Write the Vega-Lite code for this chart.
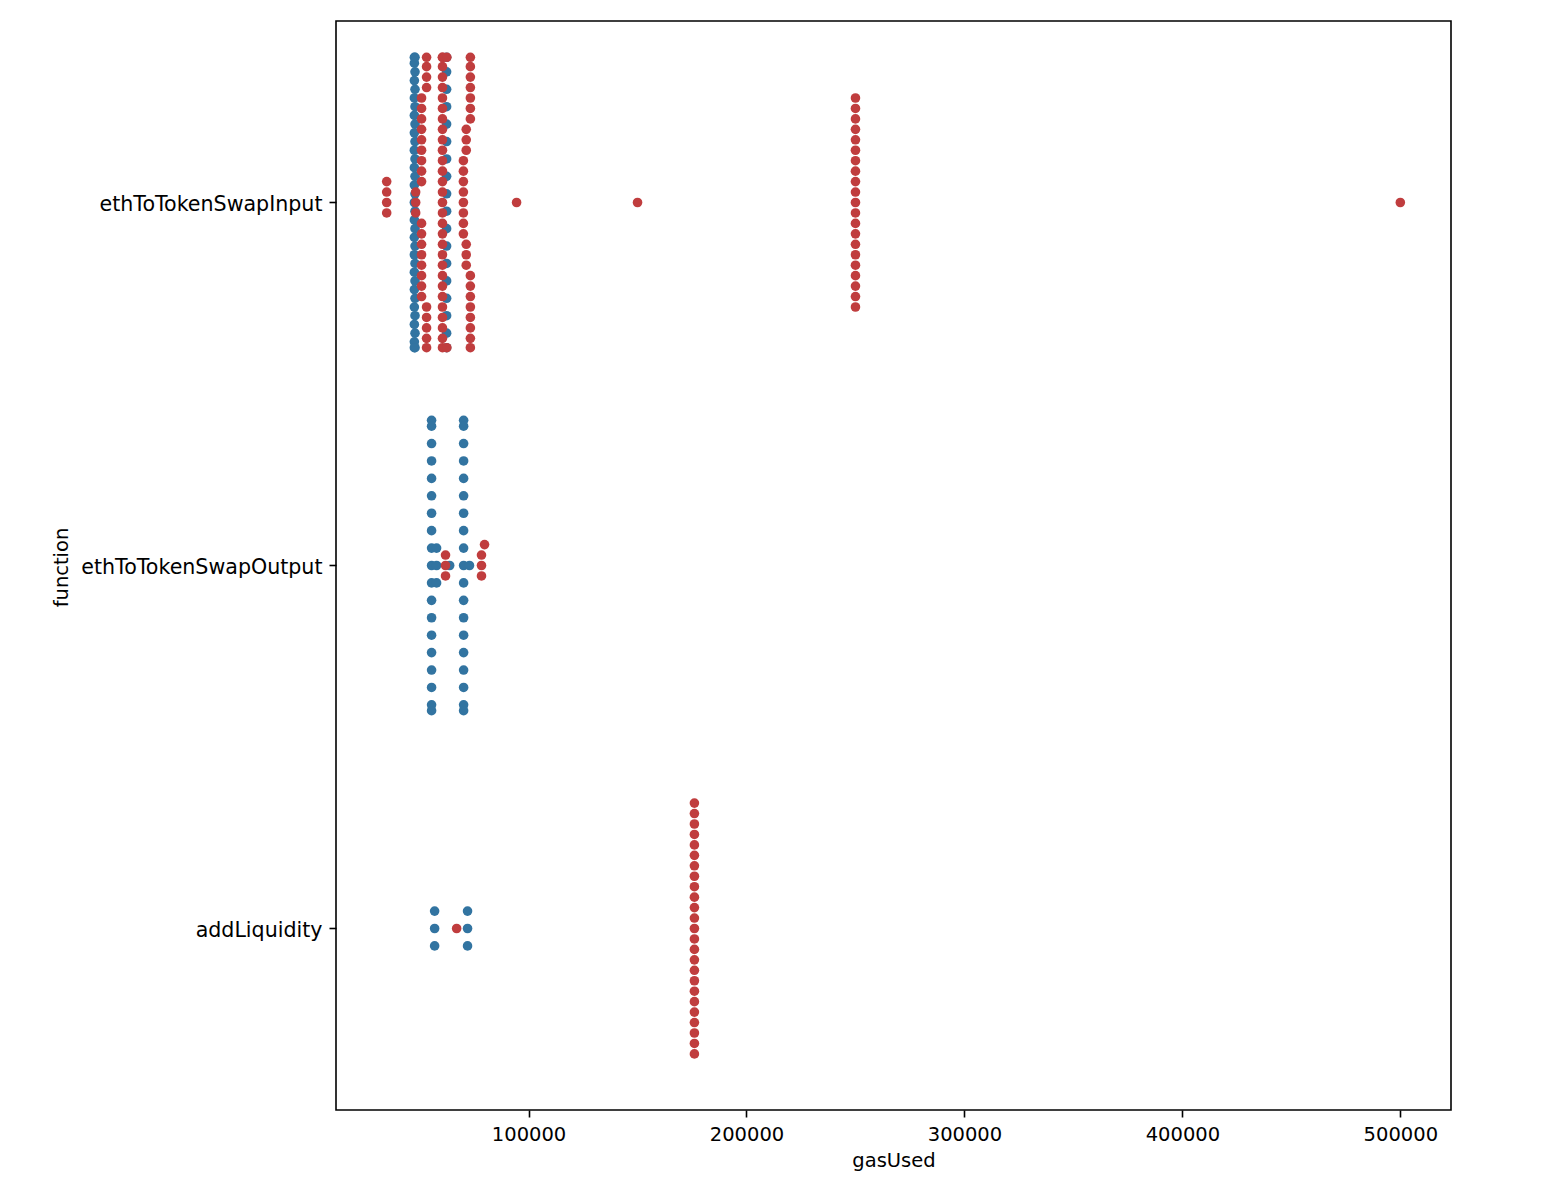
{
  "$schema": "https://vega.github.io/schema/vega-lite/v6.json",
  "width": 1115,
  "height": 1089,
  "autosize": {"type": "none"},
  "padding": {"left": 336, "top": 21, "right": 93, "bottom": 80},
  "background": "white",
  "config": {
    "view": {"stroke": "black", "strokeWidth": 1.6},
    "font": "DejaVu Sans",
    "axis": {
      "labelFont": "DejaVu Sans",
      "titleFont": "DejaVu Sans",
      "labelFontSize": 19.5,
      "titleFontSize": 19.5,
      "titleFontWeight": "normal",
      "labelColor": "black",
      "titleColor": "black",
      "tickColor": "black",
      "tickWidth": 1.6,
      "tickSize": 7,
      "labelLimit": 0,
      "domain": false,
      "grid": false
    }
  },
  "datasets": {
    "txs": [
      {"function": "ethToTokenSwapInput", "gasUsed": 47600, "status": "success"},
      {"function": "ethToTokenSwapInput", "gasUsed": 47600, "status": "success"},
      {"function": "ethToTokenSwapInput", "gasUsed": 47600, "status": "success"},
      {"function": "ethToTokenSwapInput", "gasUsed": 47600, "status": "success"},
      {"function": "ethToTokenSwapInput", "gasUsed": 47600, "status": "success"},
      {"function": "ethToTokenSwapInput", "gasUsed": 47600, "status": "success"},
      {"function": "ethToTokenSwapInput", "gasUsed": 47600, "status": "success"},
      {"function": "ethToTokenSwapInput", "gasUsed": 47600, "status": "success"},
      {"function": "ethToTokenSwapInput", "gasUsed": 47600, "status": "success"},
      {"function": "ethToTokenSwapInput", "gasUsed": 47600, "status": "success"},
      {"function": "ethToTokenSwapInput", "gasUsed": 47600, "status": "success"},
      {"function": "ethToTokenSwapInput", "gasUsed": 47600, "status": "success"},
      {"function": "ethToTokenSwapInput", "gasUsed": 47600, "status": "success"},
      {"function": "ethToTokenSwapInput", "gasUsed": 47600, "status": "success"},
      {"function": "ethToTokenSwapInput", "gasUsed": 47600, "status": "success"},
      {"function": "ethToTokenSwapInput", "gasUsed": 47600, "status": "success"},
      {"function": "ethToTokenSwapInput", "gasUsed": 47600, "status": "success"},
      {"function": "ethToTokenSwapInput", "gasUsed": 47600, "status": "success"},
      {"function": "ethToTokenSwapInput", "gasUsed": 47600, "status": "success"},
      {"function": "ethToTokenSwapInput", "gasUsed": 47900, "status": "success"},
      {"function": "ethToTokenSwapInput", "gasUsed": 47900, "status": "success"},
      {"function": "ethToTokenSwapInput", "gasUsed": 47900, "status": "success"},
      {"function": "ethToTokenSwapInput", "gasUsed": 47900, "status": "success"},
      {"function": "ethToTokenSwapInput", "gasUsed": 47900, "status": "success"},
      {"function": "ethToTokenSwapInput", "gasUsed": 47900, "status": "success"},
      {"function": "ethToTokenSwapInput", "gasUsed": 47900, "status": "success"},
      {"function": "ethToTokenSwapInput", "gasUsed": 47900, "status": "success"},
      {"function": "ethToTokenSwapInput", "gasUsed": 47900, "status": "success"},
      {"function": "ethToTokenSwapInput", "gasUsed": 47900, "status": "success"},
      {"function": "ethToTokenSwapInput", "gasUsed": 47900, "status": "success"},
      {"function": "ethToTokenSwapInput", "gasUsed": 47900, "status": "success"},
      {"function": "ethToTokenSwapInput", "gasUsed": 47900, "status": "success"},
      {"function": "ethToTokenSwapInput", "gasUsed": 47900, "status": "success"},
      {"function": "ethToTokenSwapInput", "gasUsed": 47900, "status": "success"},
      {"function": "ethToTokenSwapInput", "gasUsed": 47900, "status": "success"},
      {"function": "ethToTokenSwapInput", "gasUsed": 47900, "status": "success"},
      {"function": "ethToTokenSwapInput", "gasUsed": 47900, "status": "success"},
      {"function": "ethToTokenSwapInput", "gasUsed": 62400, "status": "success"},
      {"function": "ethToTokenSwapInput", "gasUsed": 62400, "status": "success"},
      {"function": "ethToTokenSwapInput", "gasUsed": 62400, "status": "success"},
      {"function": "ethToTokenSwapInput", "gasUsed": 62400, "status": "success"},
      {"function": "ethToTokenSwapInput", "gasUsed": 62400, "status": "success"},
      {"function": "ethToTokenSwapInput", "gasUsed": 62400, "status": "success"},
      {"function": "ethToTokenSwapInput", "gasUsed": 62400, "status": "success"},
      {"function": "ethToTokenSwapInput", "gasUsed": 62400, "status": "success"},
      {"function": "ethToTokenSwapInput", "gasUsed": 62400, "status": "success"},
      {"function": "ethToTokenSwapInput", "gasUsed": 62400, "status": "success"},
      {"function": "ethToTokenSwapInput", "gasUsed": 62400, "status": "success"},
      {"function": "ethToTokenSwapInput", "gasUsed": 62400, "status": "success"},
      {"function": "ethToTokenSwapInput", "gasUsed": 62400, "status": "success"},
      {"function": "ethToTokenSwapInput", "gasUsed": 62400, "status": "success"},
      {"function": "ethToTokenSwapInput", "gasUsed": 62400, "status": "success"},
      {"function": "ethToTokenSwapInput", "gasUsed": 62400, "status": "success"},
      {"function": "ethToTokenSwapInput", "gasUsed": 62400, "status": "success"},
      {"function": "ethToTokenSwapInput", "gasUsed": 62400, "status": "success"},

      {"function": "ethToTokenSwapInput", "gasUsed": 34900, "status": "failed"},
      {"function": "ethToTokenSwapInput", "gasUsed": 34900, "status": "failed"},
      {"function": "ethToTokenSwapInput", "gasUsed": 34900, "status": "failed"},
      {"function": "ethToTokenSwapInput", "gasUsed": 34900, "status": "failed"},
      {"function": "ethToTokenSwapInput", "gasUsed": 48200, "status": "failed"},
      {"function": "ethToTokenSwapInput", "gasUsed": 48200, "status": "failed"},
      {"function": "ethToTokenSwapInput", "gasUsed": 48200, "status": "failed"},
      {"function": "ethToTokenSwapInput", "gasUsed": 50900, "status": "failed"},
      {"function": "ethToTokenSwapInput", "gasUsed": 50900, "status": "failed"},
      {"function": "ethToTokenSwapInput", "gasUsed": 50900, "status": "failed"},
      {"function": "ethToTokenSwapInput", "gasUsed": 50900, "status": "failed"},
      {"function": "ethToTokenSwapInput", "gasUsed": 50900, "status": "failed"},
      {"function": "ethToTokenSwapInput", "gasUsed": 50900, "status": "failed"},
      {"function": "ethToTokenSwapInput", "gasUsed": 50900, "status": "failed"},
      {"function": "ethToTokenSwapInput", "gasUsed": 50900, "status": "failed"},
      {"function": "ethToTokenSwapInput", "gasUsed": 50900, "status": "failed"},
      {"function": "ethToTokenSwapInput", "gasUsed": 50900, "status": "failed"},
      {"function": "ethToTokenSwapInput", "gasUsed": 50900, "status": "failed"},
      {"function": "ethToTokenSwapInput", "gasUsed": 50900, "status": "failed"},
      {"function": "ethToTokenSwapInput", "gasUsed": 50900, "status": "failed"},
      {"function": "ethToTokenSwapInput", "gasUsed": 50900, "status": "failed"},
      {"function": "ethToTokenSwapInput", "gasUsed": 50900, "status": "failed"},
      {"function": "ethToTokenSwapInput", "gasUsed": 50900, "status": "failed"},
      {"function": "ethToTokenSwapInput", "gasUsed": 50900, "status": "failed"},
      {"function": "ethToTokenSwapInput", "gasUsed": 53200, "status": "failed"},
      {"function": "ethToTokenSwapInput", "gasUsed": 53200, "status": "failed"},
      {"function": "ethToTokenSwapInput", "gasUsed": 53200, "status": "failed"},
      {"function": "ethToTokenSwapInput", "gasUsed": 53200, "status": "failed"},
      {"function": "ethToTokenSwapInput", "gasUsed": 53200, "status": "failed"},
      {"function": "ethToTokenSwapInput", "gasUsed": 53200, "status": "failed"},
      {"function": "ethToTokenSwapInput", "gasUsed": 53200, "status": "failed"},
      {"function": "ethToTokenSwapInput", "gasUsed": 53200, "status": "failed"},
      {"function": "ethToTokenSwapInput", "gasUsed": 53200, "status": "failed"},
      {"function": "ethToTokenSwapInput", "gasUsed": 60500, "status": "failed"},
      {"function": "ethToTokenSwapInput", "gasUsed": 60500, "status": "failed"},
      {"function": "ethToTokenSwapInput", "gasUsed": 60500, "status": "failed"},
      {"function": "ethToTokenSwapInput", "gasUsed": 60500, "status": "failed"},
      {"function": "ethToTokenSwapInput", "gasUsed": 60500, "status": "failed"},
      {"function": "ethToTokenSwapInput", "gasUsed": 60500, "status": "failed"},
      {"function": "ethToTokenSwapInput", "gasUsed": 60500, "status": "failed"},
      {"function": "ethToTokenSwapInput", "gasUsed": 60500, "status": "failed"},
      {"function": "ethToTokenSwapInput", "gasUsed": 60500, "status": "failed"},
      {"function": "ethToTokenSwapInput", "gasUsed": 60500, "status": "failed"},
      {"function": "ethToTokenSwapInput", "gasUsed": 60500, "status": "failed"},
      {"function": "ethToTokenSwapInput", "gasUsed": 60500, "status": "failed"},
      {"function": "ethToTokenSwapInput", "gasUsed": 60500, "status": "failed"},
      {"function": "ethToTokenSwapInput", "gasUsed": 60500, "status": "failed"},
      {"function": "ethToTokenSwapInput", "gasUsed": 60500, "status": "failed"},
      {"function": "ethToTokenSwapInput", "gasUsed": 60500, "status": "failed"},
      {"function": "ethToTokenSwapInput", "gasUsed": 60500, "status": "failed"},
      {"function": "ethToTokenSwapInput", "gasUsed": 60500, "status": "failed"},
      {"function": "ethToTokenSwapInput", "gasUsed": 60500, "status": "failed"},
      {"function": "ethToTokenSwapInput", "gasUsed": 60500, "status": "failed"},
      {"function": "ethToTokenSwapInput", "gasUsed": 60500, "status": "failed"},
      {"function": "ethToTokenSwapInput", "gasUsed": 60500, "status": "failed"},
      {"function": "ethToTokenSwapInput", "gasUsed": 60500, "status": "failed"},
      {"function": "ethToTokenSwapInput", "gasUsed": 60500, "status": "failed"},
      {"function": "ethToTokenSwapInput", "gasUsed": 60500, "status": "failed"},
      {"function": "ethToTokenSwapInput", "gasUsed": 60500, "status": "failed"},
      {"function": "ethToTokenSwapInput", "gasUsed": 60500, "status": "failed"},
      {"function": "ethToTokenSwapInput", "gasUsed": 60500, "status": "failed"},
      {"function": "ethToTokenSwapInput", "gasUsed": 60500, "status": "failed"},
      {"function": "ethToTokenSwapInput", "gasUsed": 60500, "status": "failed"},
      {"function": "ethToTokenSwapInput", "gasUsed": 62500, "status": "failed"},
      {"function": "ethToTokenSwapInput", "gasUsed": 62500, "status": "failed"},
      {"function": "ethToTokenSwapInput", "gasUsed": 70100, "status": "failed"},
      {"function": "ethToTokenSwapInput", "gasUsed": 70100, "status": "failed"},
      {"function": "ethToTokenSwapInput", "gasUsed": 70100, "status": "failed"},
      {"function": "ethToTokenSwapInput", "gasUsed": 70100, "status": "failed"},
      {"function": "ethToTokenSwapInput", "gasUsed": 70100, "status": "failed"},
      {"function": "ethToTokenSwapInput", "gasUsed": 70100, "status": "failed"},
      {"function": "ethToTokenSwapInput", "gasUsed": 70100, "status": "failed"},
      {"function": "ethToTokenSwapInput", "gasUsed": 70100, "status": "failed"},
      {"function": "ethToTokenSwapInput", "gasUsed": 71400, "status": "failed"},
      {"function": "ethToTokenSwapInput", "gasUsed": 71400, "status": "failed"},
      {"function": "ethToTokenSwapInput", "gasUsed": 71400, "status": "failed"},
      {"function": "ethToTokenSwapInput", "gasUsed": 71400, "status": "failed"},
      {"function": "ethToTokenSwapInput", "gasUsed": 71400, "status": "failed"},
      {"function": "ethToTokenSwapInput", "gasUsed": 71400, "status": "failed"},
      {"function": "ethToTokenSwapInput", "gasUsed": 73300, "status": "failed"},
      {"function": "ethToTokenSwapInput", "gasUsed": 73300, "status": "failed"},
      {"function": "ethToTokenSwapInput", "gasUsed": 73300, "status": "failed"},
      {"function": "ethToTokenSwapInput", "gasUsed": 73300, "status": "failed"},
      {"function": "ethToTokenSwapInput", "gasUsed": 73300, "status": "failed"},
      {"function": "ethToTokenSwapInput", "gasUsed": 73300, "status": "failed"},
      {"function": "ethToTokenSwapInput", "gasUsed": 73300, "status": "failed"},
      {"function": "ethToTokenSwapInput", "gasUsed": 73300, "status": "failed"},
      {"function": "ethToTokenSwapInput", "gasUsed": 73300, "status": "failed"},
      {"function": "ethToTokenSwapInput", "gasUsed": 73300, "status": "failed"},
      {"function": "ethToTokenSwapInput", "gasUsed": 73300, "status": "failed"},
      {"function": "ethToTokenSwapInput", "gasUsed": 73300, "status": "failed"},
      {"function": "ethToTokenSwapInput", "gasUsed": 73300, "status": "failed"},
      {"function": "ethToTokenSwapInput", "gasUsed": 73300, "status": "failed"},
      {"function": "ethToTokenSwapInput", "gasUsed": 73300, "status": "failed"},
      {"function": "ethToTokenSwapInput", "gasUsed": 94500, "status": "failed"},
      {"function": "ethToTokenSwapInput", "gasUsed": 150000, "status": "failed"},
      {"function": "ethToTokenSwapInput", "gasUsed": 250000, "status": "failed"},
      {"function": "ethToTokenSwapInput", "gasUsed": 250000, "status": "failed"},
      {"function": "ethToTokenSwapInput", "gasUsed": 250000, "status": "failed"},
      {"function": "ethToTokenSwapInput", "gasUsed": 250000, "status": "failed"},
      {"function": "ethToTokenSwapInput", "gasUsed": 250000, "status": "failed"},
      {"function": "ethToTokenSwapInput", "gasUsed": 250000, "status": "failed"},
      {"function": "ethToTokenSwapInput", "gasUsed": 250000, "status": "failed"},
      {"function": "ethToTokenSwapInput", "gasUsed": 250000, "status": "failed"},
      {"function": "ethToTokenSwapInput", "gasUsed": 250000, "status": "failed"},
      {"function": "ethToTokenSwapInput", "gasUsed": 250000, "status": "failed"},
      {"function": "ethToTokenSwapInput", "gasUsed": 250000, "status": "failed"},
      {"function": "ethToTokenSwapInput", "gasUsed": 250000, "status": "failed"},
      {"function": "ethToTokenSwapInput", "gasUsed": 250000, "status": "failed"},
      {"function": "ethToTokenSwapInput", "gasUsed": 250000, "status": "failed"},
      {"function": "ethToTokenSwapInput", "gasUsed": 250000, "status": "failed"},
      {"function": "ethToTokenSwapInput", "gasUsed": 250000, "status": "failed"},
      {"function": "ethToTokenSwapInput", "gasUsed": 250000, "status": "failed"},
      {"function": "ethToTokenSwapInput", "gasUsed": 250000, "status": "failed"},
      {"function": "ethToTokenSwapInput", "gasUsed": 250000, "status": "failed"},
      {"function": "ethToTokenSwapInput", "gasUsed": 250000, "status": "failed"},
      {"function": "ethToTokenSwapInput", "gasUsed": 250000, "status": "failed"},
      {"function": "ethToTokenSwapInput", "gasUsed": 500000, "status": "failed"},

      {"function": "ethToTokenSwapOutput", "gasUsed": 55500, "status": "success"},
      {"function": "ethToTokenSwapOutput", "gasUsed": 55500, "status": "success"},
      {"function": "ethToTokenSwapOutput", "gasUsed": 55500, "status": "success"},
      {"function": "ethToTokenSwapOutput", "gasUsed": 55500, "status": "success"},
      {"function": "ethToTokenSwapOutput", "gasUsed": 55500, "status": "success"},
      {"function": "ethToTokenSwapOutput", "gasUsed": 55500, "status": "success"},
      {"function": "ethToTokenSwapOutput", "gasUsed": 55500, "status": "success"},
      {"function": "ethToTokenSwapOutput", "gasUsed": 55500, "status": "success"},
      {"function": "ethToTokenSwapOutput", "gasUsed": 55500, "status": "success"},
      {"function": "ethToTokenSwapOutput", "gasUsed": 55500, "status": "success"},
      {"function": "ethToTokenSwapOutput", "gasUsed": 55500, "status": "success"},
      {"function": "ethToTokenSwapOutput", "gasUsed": 55500, "status": "success"},
      {"function": "ethToTokenSwapOutput", "gasUsed": 55500, "status": "success"},
      {"function": "ethToTokenSwapOutput", "gasUsed": 55500, "status": "success"},
      {"function": "ethToTokenSwapOutput", "gasUsed": 55500, "status": "success"},
      {"function": "ethToTokenSwapOutput", "gasUsed": 55500, "status": "success"},
      {"function": "ethToTokenSwapOutput", "gasUsed": 55500, "status": "success"},
      {"function": "ethToTokenSwapOutput", "gasUsed": 55500, "status": "success"},
      {"function": "ethToTokenSwapOutput", "gasUsed": 55500, "status": "success"},
      {"function": "ethToTokenSwapOutput", "gasUsed": 57800, "status": "success"},
      {"function": "ethToTokenSwapOutput", "gasUsed": 57800, "status": "success"},
      {"function": "ethToTokenSwapOutput", "gasUsed": 57800, "status": "success"},
      {"function": "ethToTokenSwapOutput", "gasUsed": 63800, "status": "success"},
      {"function": "ethToTokenSwapOutput", "gasUsed": 70200, "status": "success"},
      {"function": "ethToTokenSwapOutput", "gasUsed": 70200, "status": "success"},
      {"function": "ethToTokenSwapOutput", "gasUsed": 70200, "status": "success"},
      {"function": "ethToTokenSwapOutput", "gasUsed": 70200, "status": "success"},
      {"function": "ethToTokenSwapOutput", "gasUsed": 70200, "status": "success"},
      {"function": "ethToTokenSwapOutput", "gasUsed": 70200, "status": "success"},
      {"function": "ethToTokenSwapOutput", "gasUsed": 70200, "status": "success"},
      {"function": "ethToTokenSwapOutput", "gasUsed": 70200, "status": "success"},
      {"function": "ethToTokenSwapOutput", "gasUsed": 70200, "status": "success"},
      {"function": "ethToTokenSwapOutput", "gasUsed": 70200, "status": "success"},
      {"function": "ethToTokenSwapOutput", "gasUsed": 70200, "status": "success"},
      {"function": "ethToTokenSwapOutput", "gasUsed": 70200, "status": "success"},
      {"function": "ethToTokenSwapOutput", "gasUsed": 70200, "status": "success"},
      {"function": "ethToTokenSwapOutput", "gasUsed": 70200, "status": "success"},
      {"function": "ethToTokenSwapOutput", "gasUsed": 70200, "status": "success"},
      {"function": "ethToTokenSwapOutput", "gasUsed": 70200, "status": "success"},
      {"function": "ethToTokenSwapOutput", "gasUsed": 70200, "status": "success"},
      {"function": "ethToTokenSwapOutput", "gasUsed": 70200, "status": "success"},
      {"function": "ethToTokenSwapOutput", "gasUsed": 70200, "status": "success"},
      {"function": "ethToTokenSwapOutput", "gasUsed": 72900, "status": "success"},
      {"function": "ethToTokenSwapOutput", "gasUsed": 61900, "status": "failed"},
      {"function": "ethToTokenSwapOutput", "gasUsed": 61900, "status": "failed"},
      {"function": "ethToTokenSwapOutput", "gasUsed": 61900, "status": "failed"},
      {"function": "ethToTokenSwapOutput", "gasUsed": 78400, "status": "failed"},
      {"function": "ethToTokenSwapOutput", "gasUsed": 78400, "status": "failed"},
      {"function": "ethToTokenSwapOutput", "gasUsed": 78400, "status": "failed"},
      {"function": "ethToTokenSwapOutput", "gasUsed": 79800, "status": "failed"},

      {"function": "addLiquidity", "gasUsed": 56900, "status": "success"},
      {"function": "addLiquidity", "gasUsed": 56900, "status": "success"},
      {"function": "addLiquidity", "gasUsed": 56900, "status": "success"},
      {"function": "addLiquidity", "gasUsed": 72000, "status": "success"},
      {"function": "addLiquidity", "gasUsed": 72000, "status": "success"},
      {"function": "addLiquidity", "gasUsed": 72000, "status": "success"},
      {"function": "addLiquidity", "gasUsed": 67000, "status": "failed"},
      {"function": "addLiquidity", "gasUsed": 176100, "status": "failed"},
      {"function": "addLiquidity", "gasUsed": 176100, "status": "failed"},
      {"function": "addLiquidity", "gasUsed": 176100, "status": "failed"},
      {"function": "addLiquidity", "gasUsed": 176100, "status": "failed"},
      {"function": "addLiquidity", "gasUsed": 176100, "status": "failed"},
      {"function": "addLiquidity", "gasUsed": 176100, "status": "failed"},
      {"function": "addLiquidity", "gasUsed": 176100, "status": "failed"},
      {"function": "addLiquidity", "gasUsed": 176100, "status": "failed"},
      {"function": "addLiquidity", "gasUsed": 176100, "status": "failed"},
      {"function": "addLiquidity", "gasUsed": 176100, "status": "failed"},
      {"function": "addLiquidity", "gasUsed": 176100, "status": "failed"},
      {"function": "addLiquidity", "gasUsed": 176100, "status": "failed"},
      {"function": "addLiquidity", "gasUsed": 176100, "status": "failed"},
      {"function": "addLiquidity", "gasUsed": 176100, "status": "failed"},
      {"function": "addLiquidity", "gasUsed": 176100, "status": "failed"},
      {"function": "addLiquidity", "gasUsed": 176100, "status": "failed"},
      {"function": "addLiquidity", "gasUsed": 176100, "status": "failed"},
      {"function": "addLiquidity", "gasUsed": 176100, "status": "failed"},
      {"function": "addLiquidity", "gasUsed": 176100, "status": "failed"},
      {"function": "addLiquidity", "gasUsed": 176100, "status": "failed"},
      {"function": "addLiquidity", "gasUsed": 176100, "status": "failed"},
      {"function": "addLiquidity", "gasUsed": 176100, "status": "failed"},
      {"function": "addLiquidity", "gasUsed": 176100, "status": "failed"},
      {"function": "addLiquidity", "gasUsed": 176100, "status": "failed"},
      {"function": "addLiquidity", "gasUsed": 176100, "status": "failed"}
    ]
  },
  "data": {"name": "txs"},
  "transform": [
    {"bin": {"step": 10000, "anchor": 5000}, "field": "gasUsed", "as": "cluster"},
    {"calculate": "datum.status === 'failed' ? datum.cluster : datum.gasUsed", "as": "stack"},
    {"joinaggregate": [{"op": "count", "as": "n"}], "groupby": ["function", "status", "stack"]},
    {
      "window": [{"op": "row_number", "as": "k"}],
      "sort": [{"field": "gasUsed", "order": "ascending"}],
      "groupby": ["function", "status", "stack"]
    },
    {
      "calculate": "datum.status === 'failed' ? 10.45 * (datum.k % 2 === 0 ? -1 : 1) * floor(datum.k / 2) : 17.42 * (datum.k - (datum.n + 1) / 2)",
      "as": "swarm"
    },
    {"calculate": "clamp(datum.swarm, -145.2, 145.2)", "as": "dy"}
  ],
  "encoding": {
    "x": {
      "field": "gasUsed",
      "type": "quantitative",
      "scale": {"domain": [11645, 523255], "nice": false, "zero": false},
      "axis": {
        "title": "gasUsed",
        "values": [100000, 200000, 300000, 400000, 500000],
        "format": "d",
        "labelPadding": 8,
        "titlePadding": 8
      }
    },
    "y": {
      "field": "function",
      "type": "nominal",
      "scale": {
        "domain": ["ethToTokenSwapInput", "ethToTokenSwapOutput", "addLiquidity"],
        "paddingInner": 0,
        "paddingOuter": 0
      },
      "axis": {
        "title": "function",
        "labelFontSize": 20.6,
        "labelPadding": 7,
        "labelOffset": 2,
        "titleAngle": -90,
        "titleX": -275,
        "titleY": 546,
        "titleAlign": "center",
        "titleBaseline": "middle"
      }
    },
    "yOffset": {
      "field": "dy",
      "type": "quantitative",
      "scale": {"domain": [-181.5, 181.5], "range": [0, 363]}
    }
  },
  "layer": [
    {
      "transform": [{"filter": "datum.status === 'success'"}],
      "mark": {"type": "point", "filled": true, "size": 92, "opacity": 1, "strokeWidth": 0, "color": "#3274A1"}
    },
    {
      "transform": [{"filter": "datum.status === 'failed'"}],
      "mark": {"type": "point", "filled": true, "size": 92, "opacity": 1, "strokeWidth": 0, "color": "#C03D3E"}
    }
  ]
}
